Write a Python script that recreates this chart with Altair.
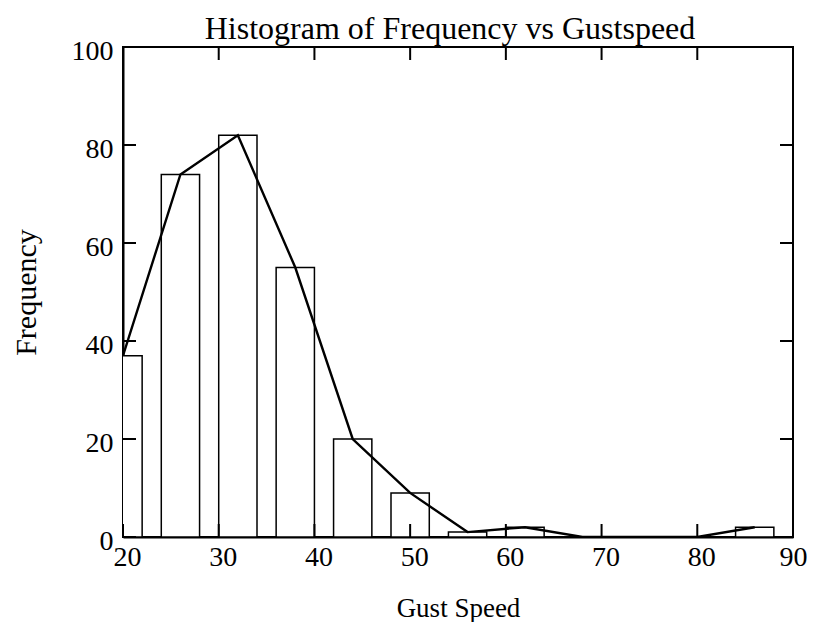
import altair as alt
import pandas as pd

# Data
centers = [20, 26, 32, 38, 44, 50, 56, 62, 68, 74, 80, 86]
counts = [37, 74, 82, 55, 20, 9, 1, 2, 0, 0, 0, 2]
half_width = 2
x_ticks = [20, 30, 40, 50, 60, 70, 80, 90]
y_ticks = [0, 20, 40, 60, 80, 100]

W, H = 670, 490
FONT = "Liberation Serif"

df = pd.DataFrame({
    "center": centers,
    "count": counts,
    "lo": [c - half_width for c in centers],
    "hi": [c + half_width for c in centers],
})
xt = pd.DataFrame({"t": x_ticks})
yt = pd.DataFrame({"t": y_ticks})

xscale = alt.Scale(domain=[20, 90], nice=False, zero=False)
yscale = alt.Scale(domain=[0, 100], nice=False)

xaxis = alt.Axis(values=x_ticks, title="Gust Speed", grid=False, tickSize=0,
                 labelFont=FONT, labelFontSize=28, labelColor="black",
                 labelPadding=6, labelFlush=False,
                 labelOffset={"condition": {"test": "datum.value >= 90", "value": 0}, "value": 4},
                 titleFont=FONT, titleFontSize=27,
                 titleFontWeight="normal", titleColor="black", titlePadding=24,
                 domainColor="black", domainWidth=2)
yaxis = alt.Axis(values=y_ticks, title="Frequency", grid=False, tickSize=0,
                 labelFont=FONT, labelFontSize=28, labelColor="black",
                 labelPadding=10, labelFlush=False, labelOffset=4,
                 titleFont=FONT, titleFontSize=30,
                 titleFontWeight="normal", titleColor="black", titlePadding=30,
                 domainColor="black", domainWidth=2)

bars = alt.Chart(df).mark_rect(fill="white", stroke="black", strokeWidth=1.5, clip=True).encode(
    x=alt.X("lo:Q", scale=xscale, axis=xaxis),
    x2="hi:Q",
    y=alt.Y("count:Q", scale=yscale, axis=yaxis),
    y2=alt.datum(0),
)

line = alt.Chart(df).mark_line(color="black", strokeWidth=2.4, clip=True).encode(
    x=alt.X("center:Q", scale=xscale),
    y=alt.Y("count:Q", scale=yscale),
)

tick_len = 13
xt_bottom = alt.Chart(xt).mark_rule(color="black", strokeWidth=2).encode(
    x=alt.X("t:Q", scale=xscale), y=alt.value(H), y2=alt.value(H - tick_len))
xt_top = alt.Chart(xt).mark_rule(color="black", strokeWidth=2).encode(
    x=alt.X("t:Q", scale=xscale), y=alt.value(0), y2=alt.value(tick_len))
yt_left = alt.Chart(yt).mark_rule(color="black", strokeWidth=2).encode(
    y=alt.Y("t:Q", scale=yscale), x=alt.value(0), x2=alt.value(tick_len))
yt_right = alt.Chart(yt).mark_rule(color="black", strokeWidth=2).encode(
    y=alt.Y("t:Q", scale=yscale), x=alt.value(W), x2=alt.value(W - tick_len))

chart = alt.layer(bars, line, xt_bottom, xt_top, yt_left, yt_right).properties(
    width=W, height=H,
    title=alt.TitleParams("Histogram of Frequency vs Gustspeed", font=FONT,
                          fontSize=32, fontWeight="normal", color="black",
                          offset=-9, dx=-8),
    autosize=alt.AutoSizeParams(type="none"),
    padding={"left": 115, "top": 39, "right": 14, "bottom": 85},
    background="white",
).configure_view(stroke="black", strokeWidth=2)

chart.save("out.html", embed_options={"renderer": "svg", "actions": False})
